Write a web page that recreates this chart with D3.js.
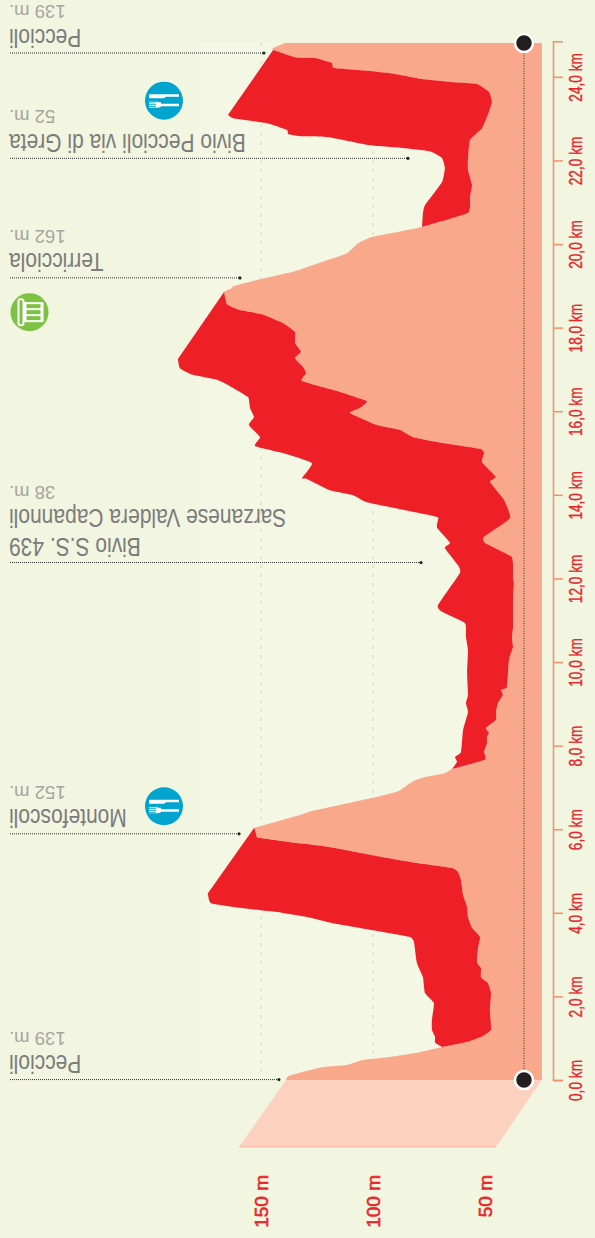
<!DOCTYPE html>
<html>
<head>
<meta charset="utf-8">
<script src="https://cdnjs.cloudflare.com/ajax/libs/d3/7.8.5/d3.min.js"></script>
<style>
html, body { margin: 0; padding: 0; background: #f2f5df; }
svg { display: block; }
text { font-family: "Liberation Sans", Arial, sans-serif; }
</style>
</head>
<body>
<div id="chart"></div>
<script>
// values are [km, metres]
var groundA = [[0,138.8],[.1,137.5],[.31,122.3],[.36,111.6],[.48,104.5],[.55,92.4],[.65,80.4],[.79,69.2]];
var ridge1 = [[.93,56.7],[1.05,50.9],[1.2,47.3],[1.67,47.8],[2.08,47.3],[2.32,48.7],[2.46,51.8],[2.68,51.8],[2.82,53.6],[3.16,53.1],[3.42,52.2],[3.64,55.8],[3.9,57.6],[4.14,58],[4.43,59.8],[4.78,60.7],[4.98,62.1],[5.07,64.7],[5.19,80.4],[5.33,95.5],[5.45,107.1],[5.6,122.3],[5.69,137.1],[5.79,150.4],[5.81,151.8],[5.98,152.7],[6.03,153.1]];
var front1 = [[4.47,173.7],[4.23,172.3],[4.11,158],[4.02,142.9],[3.9,129.5],[3.73,116.1],[3.54,95.5],[3.42,83.5],[3.3,81.7],[2.8,80.4],[2.46,77.7],[2.08,76.8],[1.84,72.8],[1.44,73.7],[1.2,73.7],[1.03,72.3],[.89,72.3],[.79,69.2]];

var groundB = [[6.34,132.6],[6.44,126.8],[6.75,100],[6.91,88.8],[7.15,82.1],[7.25,76.8],[7.34,67.9],[7.44,64.7]];
var ridge2 = [[7.66,50],[7.85,50.4],[8.06,49.1],[8.21,49.1],[8.3,48.2],[8.42,49.6],[8.61,45.1],[8.8,45.1],[9.02,44.2],[9.21,42],[9.33,42.9],[9.4,40.2],[10.05,39.3],[10.36,37.5],[10.57,38],[10.84,37.5],[11.48,37.5],[11.89,37.1],[12.01,37.5],[12.51,38],[12.85,50],[12.99,50.4],[13.44,38.8],[13.88,41.5],[14.31,47.8],[14.43,45.1],[14.78,51.3],[15,50.4],[15.1,52.2],[15.24,68.7],[15.38,82.1],[15.55,87.9],[15.67,98.2],[15.96,110.3],[16.08,105.8],[16.24,102.7],[16.46,114.7],[16.72,131.7],[16.91,129.9],[17.06,131.2],[17.27,134.8],[17.42,132.1],[17.63,134.8],[17.89,134.8],[18.11,140.2],[18.32,149.6],[18.42,159.4],[18.56,165.2],[18.85,166.5]];
var front2 = [[17.25,187.1],[17.03,186.2],[16.87,180.4],[16.75,169.6],[16.6,163.8],[16.34,155.8],[16.08,154.9],[15.86,153.1],[15.67,155.4],[15.38,150.4],[15.17,152.7],[15,140.2],[14.76,127.2],[14.4,131.7],[14.38,129.5],[14.11,119.2],[13.99,108.9],[13.82,102.7],[13.64,86.6],[13.47,71.4],[13.4,71],[13.21,71.4],[12.85,65.6],[12.73,67.9],[12.32,62.1],[12.13,61.2],[11.36,71],[11.2,69.2],[10.93,58.9],[10.6,58.5],[10.29,57.6],[9.74,58],[9.21,57.6],[9.02,58.5],[8.8,57.6],[8.37,59.8],[7.85,60.7],[7.73,63.4],[7.61,62.5],[7.44,64.7]];

var groundC = [[18.95,162.9],[18.99,162.5],[19.14,151.8],[19.35,134.8],[19.57,122.8],[19.78,111.6],[20.02,106.7],[20.17,100.4],[20.41,78.1]];
var ridge3 = [[20.74,57.6],[21.12,56.7],[21.41,55.8],[21.77,57.6],[22.01,57.6],[22.49,56.7],[22.77,51.3],[23.09,48.7],[23.4,46.9],[23.64,48.2],[23.83,53.6],[23.87,63.4],[23.95,78.1],[24.07,90.2],[24.14,101.3],[24.21,117.4],[24.33,118.3],[24.45,125.9],[24.47,134.8],[24.64,144.6]];
var front3 = [[23.09,164.7],[23.01,162.5],[22.89,147.3],[22.73,138.4],[22.63,137.9],[22.58,132.6],[22.56,120.1],[22.37,102.2],[22.3,87.1],[22.22,74.6],[22.06,69.2],[21.82,67.9],[21.48,69.2],[20.93,76.8],[20.74,77.7],[20.41,78.1]];
var groundEnd = [[24.69,144.6],[24.81,139.3]];

var floorCorners = [[0,24.6],[-1.6,45.1],[-1.6,159.8],[0,138.8]];
var kmTicks = [0,2,4,6,8,10,12,14,16,18,20,22,24];
var altTicks = [150,100,50];
var gridAlts = [150,100];
var stops = [
    {name: ["Peccioli"], alt: "139 m.", km: 24.57, reach: 148.7},
    {name: ["Bivio Peccioli via di Greta"], alt: "52 m.", km: 22.05, reach: 84.4},
    {name: ["Terricciola"], alt: "162 m.", km: 19.19, reach: 159.4},
    {name: ["Bivio S.S. 439", "Sarzanese Valdera Capannoli"], alt: "38 m.", km: 12.38, reach: 78.6},
    {name: ["Montefoscoli"], alt: "152 m.", km: 5.89, reach: 159.8},
    {name: ["Peccioli"], alt: "139 m.", km: 0.01, reach: 142}
];
var forkIcons = [23.43, 6.55];
var menuIcons = [18.37];

var width = 595, height = 1238;
var red = "#ee1f26", salmon = "#faa88c";

var svg = d3.select("#chart").append("svg")
    .attr("width", width)
    .attr("height", height);

var x = d3.scaleLinear().domain([50, 150]).range([485, 261]);
var y = d3.scaleLinear().domain([0, 24.85]).range([1080, 41.3]);

var line = d3.line().x(function(d) { return x(d[1]); }).y(function(d) { return y(d[0]); });
var curve = d3.line().x(function(d) { return x(d[1]); }).y(function(d) { return y(d[0]); })
    .curve(d3.curveCardinal.tension(0.6));

// slightly lighter panel behind the chart
svg.append("rect")
    .attr("x", 200).attr("y", y(24.81))
    .attr("width", 340).attr("height", y(0) - y(24.81))
    .attr("fill", "#f4f7e3");

// Grid
svg.selectAll(".grid").data(gridAlts).enter().append("line")
    .attr("class", "grid")
    .attr("x1", x).attr("x2", x)
    .attr("y1", y(24.81)).attr("y2", y(0) - 5)
    .attr("stroke", "#dcdfd0")
    .attr("stroke-width", 1.5)
    .attr("stroke-dasharray", "3,6");

// Floor
svg.append("path")
    .attr("d", line(floorCorners) + "Z")
    .attr("fill", "#fdd1bf");
svg.append("line")
    .attr("x1", x(45.1)).attr("x2", x(159.8))
    .attr("y1", y(-1.6)).attr("y2", y(-1.6))
    .attr("stroke", "#fbb0a4").attr("stroke-width", 1);

// Ground
var ground = [].concat(groundA, ridge1, groundB, ridge2, groundC, ridge3, groundEnd);
var baseAlt = 24.6;
svg.append("path")
    .attr("d", curve(ground) + "L" + x(baseAlt) + "," + y(24.81) + "L" + x(baseAlt) + "," + y(0) + "Z")
    .attr("fill", salmon);

// Red walls
var walls = [
    [[groundA[groundA.length - 1]].concat(ridge1), front1],
    [[groundB[groundB.length - 1]].concat(ridge2), front2],
    [[groundC[groundC.length - 1]].concat(ridge3), front3]
];
svg.selectAll(".wall").data(walls).enter().append("path")
    .attr("class", "wall")
    .attr("d", function(d) { return curve(d[0]) + "L" + curve(d[1]).slice(1) + "Z"; })
    .attr("fill", red);

// Distance axis
var axis = d3.axisRight(y)
    .tickValues(kmTicks)
    .tickSizeInner(10)
    .tickSizeOuter(10)
    .tickFormat(function(d) { return d3.format(".1f")(d).replace(".", ",") + " km"; });

var axisG = svg.append("g")
    .attr("transform", "translate(553,0)")
    .call(axis);
axisG.select(".domain").attr("stroke", "#f58f68").attr("stroke-width", 1.5);
axisG.selectAll(".tick line").attr("stroke", "#f58f68").attr("stroke-width", 1.5);
axisG.selectAll(".tick text")
    .attr("x", null).attr("dy", null).attr("text-anchor", "middle")
    .attr("transform", "translate(28.5,0) rotate(-90) scale(0.76,1)")
    .attr("fill", "#e8262a")
    .attr("stroke", "#e8262a")
    .attr("stroke-width", 0.35)
    .style("font-family", "'Liberation Sans', Arial, sans-serif")
    .style("font-size", "18px");

// Altitude labels
svg.selectAll(".alt-label").data(altTicks).enter().append("text")
    .attr("class", "alt-label")
    .attr("transform", function(d) { return "translate(" + (x(d) + 6.5) + ",1175) rotate(-90)"; })
    .attr("text-anchor", "end")
    .attr("fill", "#e8262a")
    .attr("stroke", "#e8262a")
    .attr("stroke-width", 0.6)
    .style("font-size", "19px")
    .text(function(d) { return d + " m"; });

// Vertical dotted line and end points
svg.append("line")
    .attr("x1", 524).attr("x2", 524)
    .attr("y1", y(24.81)).attr("y2", y(0))
    .attr("stroke", "#333").attr("stroke-width", 1).attr("stroke-dasharray", "1,1.5");
svg.selectAll(".end").data([0, 24.81]).enter().append("circle")
    .attr("class", "end")
    .attr("cx", 524).attr("cy", y)
    .attr("r", 9)
    .attr("fill", "#231f20")
    .attr("stroke", "#fff")
    .attr("stroke-width", 2.5);

// Place labels, printed upside down
var stopG = svg.selectAll(".stop").data(stops).enter().append("g")
    .attr("class", "stop");

stopG.append("line")
    .attr("x1", 10)
    .attr("x2", function(d) { return x(d.reach); })
    .attr("y1", function(d) { return y(d.km); })
    .attr("y2", function(d) { return y(d.km); })
    .attr("stroke", "#333").attr("stroke-width", 1).attr("stroke-dasharray", "1,1");
stopG.append("circle")
    .attr("cx", function(d) { return x(d.reach); })
    .attr("cy", function(d) { return y(d.km); })
    .attr("r", 1.6)
    .attr("fill", "#222");

stopG.each(function(d) {
    var g = d3.select(this);
    var base = y(d.km) - 24.5;
    d.name.forEach(function(n, i) {
        g.append("text")
            .attr("transform", "translate(9," + (base - i * 29) + ") rotate(180) scale(0.84,1)")
            .attr("text-anchor", "end")
            .attr("fill", "#7c7c7c")
            .style("font-size", "25px")
            .text(n);
    });
    g.append("text")
        .attr("transform", "translate(9," + (base - d.name.length * 23.5 - (d.name.length - 1) * 5) + ") rotate(180) scale(1.03,1)")
        .attr("text-anchor", "end")
        .attr("fill", "#a5a6a0")
        .style("font-size", "18px")
        .text(d.alt);
});

// Icons
var forkG = svg.selectAll(".fork").data(forkIcons).enter().append("g")
    .attr("class", "fork")
    .attr("transform", function(d) { return "translate(164," + y(d) + ")"; });
forkG.append("circle").attr("r", 19).attr("fill", "#00a4cf");
forkG.append("path")
    .attr("d", "M-15,-6 Q-15,-6.5 -14,-6.5 L15,-6.5 L15,-4 L2,-4 L0,-2.5 L-14,-2.5 Q-15,-2.5 -15,-4Z")
    .attr("fill", "#fff");
forkG.append("path")
    .attr("d", "M15,3 L-3,3 L-3,5.5 L15,5.5Z M-3,1.5 L-6,1.5 L-6,1 L-15,1 L-15,1.8 L-8,1.8 L-8,2.6 L-15,2.6 L-15,3.6 L-8,3.6 L-8,4.6 L-15,4.6 L-15,5.5 L-8,5.5 L-8,6.5 L-15,6.5 L-15,7 L-6,7 L-3,6Z")
    .attr("fill", "#fff");

var menuG = svg.selectAll(".menu").data(menuIcons).enter().append("g")
    .attr("class", "menu")
    .attr("transform", function(d) { return "translate(29.5," + y(d) + ")"; });
menuG.append("circle").attr("r", 19).attr("fill", "#7dc242");
menuG.append("rect").attr("x", -11).attr("y", -13).attr("width", 5).attr("height", 26).attr("rx", 2)
    .attr("fill", "none").attr("stroke", "#fff").attr("stroke-width", 2);
menuG.append("rect").attr("x", -6).attr("y", -10).attr("width", 20).attr("height", 20)
    .attr("fill", "#fff");
menuG.selectAll(".row").data([-8, -2, 4]).enter().append("rect")
    .attr("class", "row")
    .attr("x", -3).attr("y", function(d) { return d; }).attr("width", 14).attr("height", 4)
    .attr("fill", "#7dc242");
</script>
</body>
</html>
